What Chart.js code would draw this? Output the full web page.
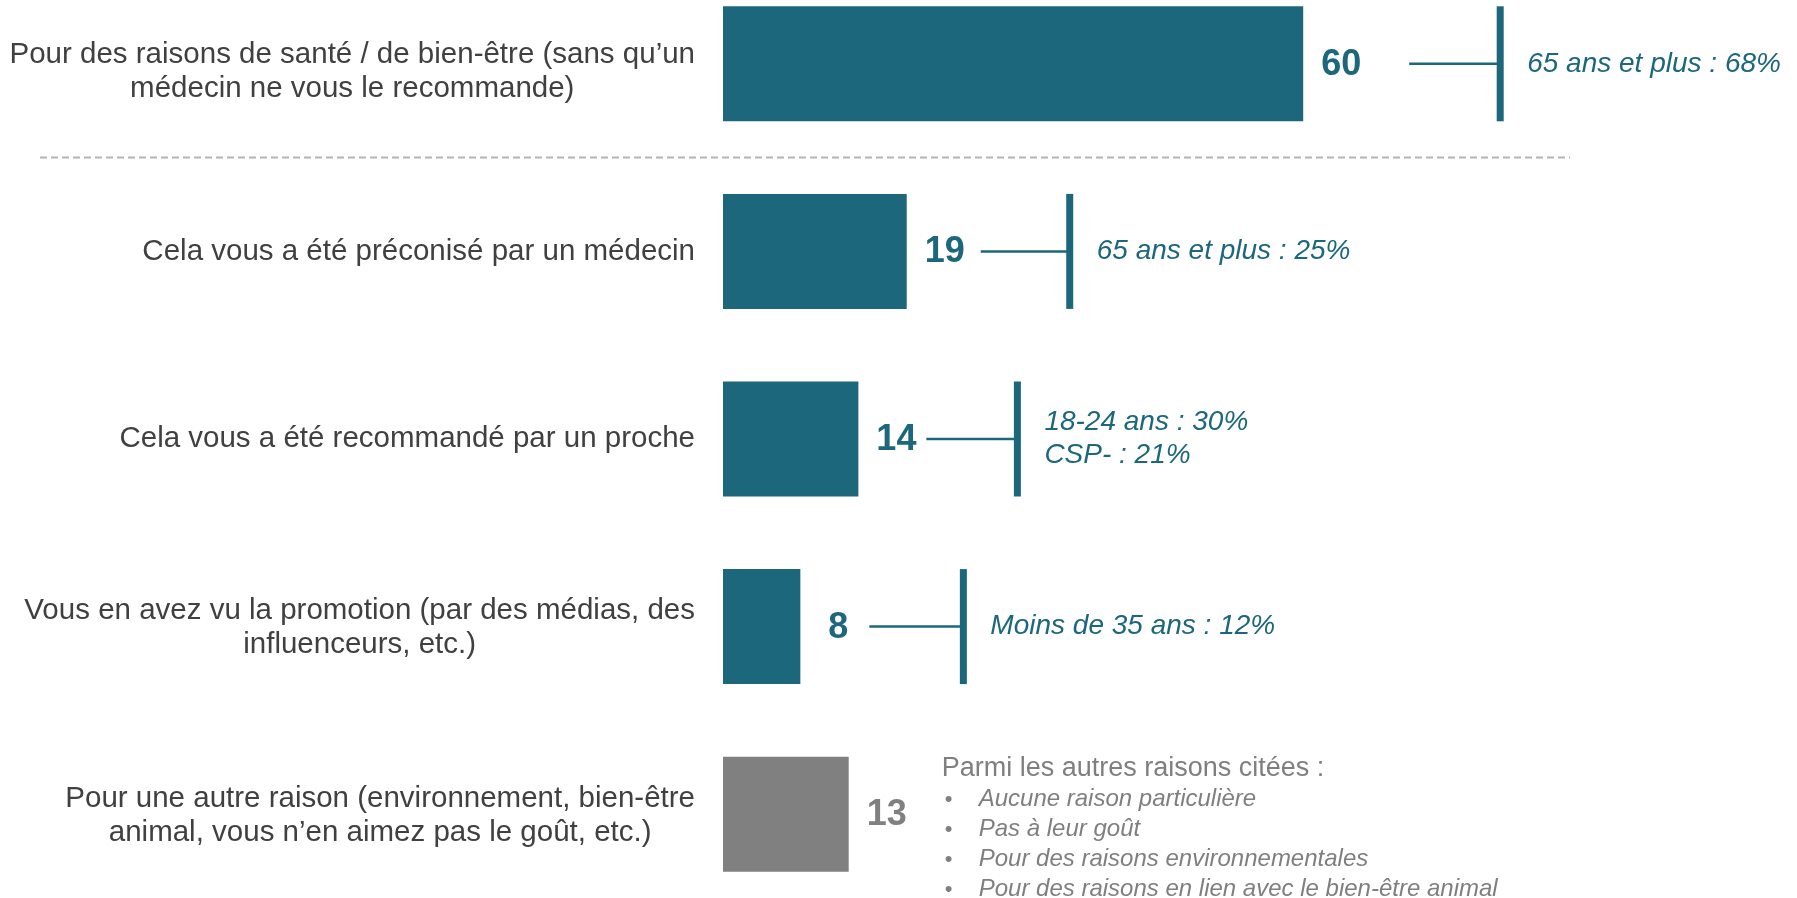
<!DOCTYPE html>
<html>
<head>
<meta charset="utf-8">
<script src="https://cdn.jsdelivr.net/npm/chart.js@4"></script>
<style>
  html, body { margin: 0; padding: 0; background: #fff; overflow: hidden; }
  #wrap { position: absolute; left: 0; top: -30px; width: 1797px; height: 938px; }
</style>
</head>
<body>
<div id="wrap"><canvas id="barChart"></canvas></div>
<script>
// Data
const categories = [
    ['Pour des raisons de santé / de bien-être (sans qu’un', 'médecin ne vous le recommande)'],
    ['Cela vous a été préconisé par un médecin'],
    ['Cela vous a été recommandé par un proche'],
    ['Vous en avez vu la promotion (par des médias, des', 'influenceurs, etc.)'],
    ['Pour une autre raison (environnement, bien-être', 'animal, vous n’en aimez pas le goût, etc.)']
];
const values = [60, 19, 14, 8, 13];
const subgroupNotes = [
    ['65 ans et plus : 68%'],
    ['65 ans et plus : 25%'],
    ['18-24 ans : 30%', 'CSP- : 21%'],
    ['Moins de 35 ans : 12%'],
    []
];
const otherReasonsTitle = 'Parmi les autres raisons citées :';
const otherReasons = [
    'Aucune raison particulière',
    'Pas à leur goût',
    'Pour des raisons environnementales',
    'Pour des raisons en lien avec le bien-être animal'
];

const TEAL = '#1c677c';
const GREY = '#808080';
const FONT = "'Liberation Sans', Arial, sans-serif";

// where the callout bracket sits, relative to the value / bar end
const calloutLayout = [
    { lineFrom: 68, post: 197 },
    { lineFrom: 36, post: 163 },
    { lineFrom: 30, post: 159 },
    { lineFrom: 31, post: 163 },
    null
];
// small vertical nudges of the category labels
const labelShift = [8, 0, 0, 1, 2];

const annotatePlugin = {
    id: 'annotate',
    afterDatasetsDraw(chart) {
        const ctx = chart.ctx;
        const xScale = chart.scales.x;
        const yScale = chart.scales.y;
        const meta = chart.getDatasetMeta(0);
        ctx.save();

        // dashed separator between first row and the rest
        const ySep = (yScale.getPixelForValue(0) + yScale.getPixelForValue(1)) / 2;
        ctx.strokeStyle = '#b4b4b4';
        ctx.lineWidth = 2;
        ctx.setLineDash([7, 4]);
        ctx.beginPath();
        ctx.moveTo(40, ySep);
        ctx.lineTo(1570, ySep);
        ctx.stroke();
        ctx.setLineDash([]);

        const labelRight = xScale.left - 28;

        meta.data.forEach((bar, i) => {
            const p = bar.getProps(['x', 'y', 'height'], true);
            const yc = p.y;
            const isOther = i === values.length - 1;

            // category label, block right-aligned, lines centred
            ctx.font = '29.5px ' + FONT;
            ctx.fillStyle = '#404040';
            ctx.textBaseline = 'middle';
            ctx.textAlign = 'center';
            const lines = categories[i];
            const blockW = Math.max(...lines.map(l => ctx.measureText(l).width));
            const lh = 34;
            lines.forEach((l, k) => {
                const y = yc + labelShift[i] + (k - (lines.length - 1) / 2) * lh;
                ctx.fillText(l, labelRight - blockW / 2, y);
            });

            // value
            const vx = p.x + 38;
            ctx.font = 'bold 36px ' + FONT;
            ctx.fillStyle = isOther ? GREY : TEAL;
            ctx.fillText(String(values[i]), vx, yc + 1);

            const lay = calloutLayout[i];
            if (lay) {
                const post = p.x + lay.post;
                ctx.strokeStyle = TEAL;
                ctx.lineWidth = 2.5;
                ctx.beginPath();
                ctx.moveTo(vx + lay.lineFrom, yc);
                ctx.lineTo(post, yc);
                ctx.stroke();
                ctx.fillStyle = TEAL;
                ctx.fillRect(post - 3.5, yc - p.height / 2, 7, p.height);

                ctx.font = 'italic 28px ' + FONT;
                ctx.textAlign = 'left';
                const notes = subgroupNotes[i];
                notes.forEach((n, k) => {
                    const y = yc + (k - (notes.length - 1) / 2) * 33;
                    ctx.fillText(n, post + 27, y);
                });
            }

            if (isOther) {
                const tx = p.x + 93;
                ctx.textAlign = 'left';
                ctx.textBaseline = 'alphabetic';
                ctx.fillStyle = '#7f7f7f';
                ctx.font = '27px ' + FONT;
                ctx.fillText(otherReasonsTitle, tx, yc - 38);
                otherReasons.forEach((r, k) => {
                    const y = yc - 8 + k * 30;
                    ctx.font = '22px ' + FONT;
                    ctx.fillText('•', tx + 3, y);
                    ctx.font = 'italic 24px ' + FONT;
                    ctx.fillText(r, tx + 37, y);
                });
            }
        });
        ctx.restore();
    }
};

const ctx = document.getElementById('barChart').getContext('2d');
const barChart = new Chart(ctx, {
    type: 'bar',
    data: {
        labels: categories,
        datasets: [{
            data: values,
            backgroundColor: values.map((v, i) => i === values.length - 1 ? GREY : TEAL),
            borderWidth: 0,
            barPercentage: 0.613,
            categoryPercentage: 1
        }]
    },
    options: {
        indexAxis: 'y',
        responsive: true,
        maintainAspectRatio: false,
        animation: false,
        layout: { padding: { left: 723, right: 107, top: 0, bottom: 0 } },
        plugins: {
            legend: { display: false },
            tooltip: { enabled: false }
        },
        scales: {
            x: { display: false, min: 0, max: 100 },
            y: { display: false }
        }
    },
    plugins: [annotatePlugin]
});
</script>
</body>
</html>
